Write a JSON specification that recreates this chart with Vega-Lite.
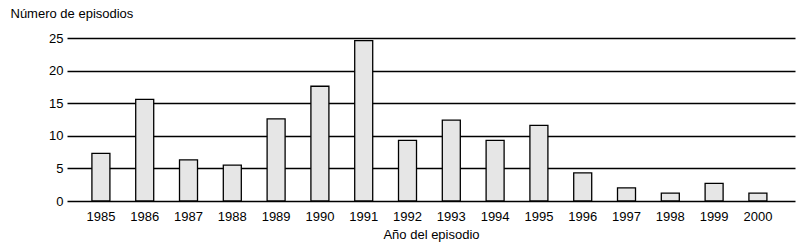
{
  "$schema": "https://vega.github.io/schema/vega-lite/v6.json",
  "width": 728,
  "height": 163,
  "autosize": "none",
  "padding": {"left": 67, "top": 38, "right": 14, "bottom": 46},
  "background": "white",
  "config": {
    "view": {"stroke": null},
    "font": "Liberation Sans",
    "axis": {"labelFont": "Liberation Sans", "titleFont": "Liberation Sans", "labelColor": "black", "titleColor": "black", "labelFontSize": 13, "titleFontSize": 13, "titleFontWeight": "normal"}
  },
  "data": {
    "values": [
      {"anio": "1985", "n": 7.3},
      {"anio": "1986", "n": 15.6},
      {"anio": "1987", "n": 6.3},
      {"anio": "1988", "n": 5.5},
      {"anio": "1989", "n": 12.6},
      {"anio": "1990", "n": 17.6},
      {"anio": "1991", "n": 24.6},
      {"anio": "1992", "n": 9.3},
      {"anio": "1993", "n": 12.4},
      {"anio": "1994", "n": 9.3},
      {"anio": "1995", "n": 11.6},
      {"anio": "1996", "n": 4.3},
      {"anio": "1997", "n": 2.0},
      {"anio": "1998", "n": 1.2},
      {"anio": "1999", "n": 2.7},
      {"anio": "2000", "n": 1.2}
    ]
  },
  "mark": {"type": "bar", "fill": "#e6e6e6", "stroke": "black", "strokeWidth": 1.3},
  "encoding": {
    "x": {
      "field": "anio", "type": "ordinal",
      "scale": {"paddingInner": 0.589, "paddingOuter": 0.605, "align": 0.47},
      "axis": {"title": "Año del episodio", "labelAngle": 0, "domain": false, "ticks": false, "labelPadding": 9, "titlePadding": 5, "grid": false}
    },
    "y": {
      "field": "n", "type": "quantitative",
      "scale": {"domain": [0, 25], "nice": false},
      "axis": {
        "title": "Número de episodios", "titleAngle": 0, "titleAlign": "left", "titleBaseline": "middle",
        "titleX": -57, "titleY": -25,
        "values": [0, 5, 10, 15, 20, 25], "domain": false, "ticks": false, "labelPadding": 4,
        "grid": true, "gridColor": "black", "gridWidth": 1.3, "gridOpacity": 1
      }
    }
  }
}
